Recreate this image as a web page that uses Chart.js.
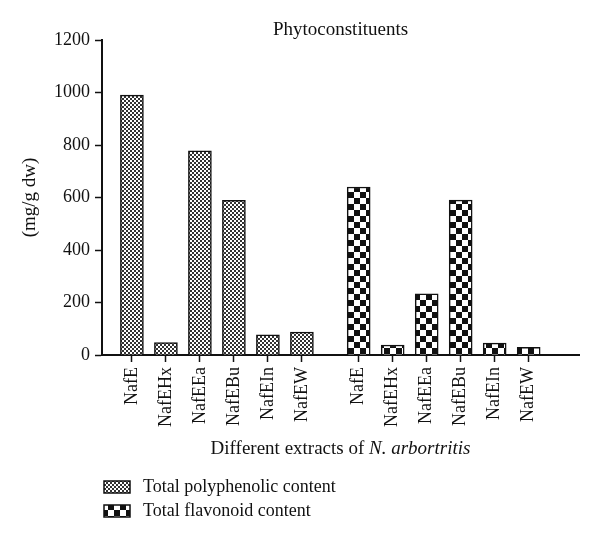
<!DOCTYPE html>
<html>
<head>
<meta charset="utf-8">
<script src="https://cdn.jsdelivr.net/npm/chart.js@4/dist/chart.umd.min.js"></script>
<style>
  html, body { margin: 0; padding: 0; background: #fff; }
  #wrap { width: 600px; height: 544px; }
</style>
</head>
<body>
<div id="wrap"><canvas id="myChart" width="600" height="544"></canvas></div>
<script>
// data
const categories = ["NafE", "NafEHx", "NafEEa", "NafEBu", "NafEIn", "NafEW"];
const polyphenolic = [990, 47, 778, 589, 77, 87];
const flavonoid = [640, 38, 233, 590, 45, 29];
const seriesNames = ["Total polyphenolic content", "Total flavonoid content"];
const yTicks = [0, 200, 400, 600, 800, 1000, 1200];

const groupGap = 0.67; // extra space between the two groups, in category units
const FONT = "'Liberation Serif', 'DejaVu Serif', serif";

function makePattern(cell, dark) {
  const c = document.createElement("canvas");
  c.width = cell * 2;
  c.height = cell * 2;
  const g = c.getContext("2d");
  g.fillStyle = "#fff";
  g.fillRect(0, 0, c.width, c.height);
  g.fillStyle = dark;
  g.fillRect(0, 0, cell, cell);
  g.fillRect(cell, cell, cell, cell);
  return g.createPattern(c, "repeat");
}
const finePattern = makePattern(2, "#333");
const coarsePattern = makePattern(6, "#111");

// x positions: category index, second group shifted after a gap
const xPos1 = categories.map((c, i) => i);
const xPos2 = categories.map((c, i) => i + categories.length + groupGap);
const allPos = xPos1.concat(xPos2);
const allLabels = categories.concat(categories);

// x title with italic species name + legend drawn under the axis
const extrasPlugin = {
  id: "extras",
  afterDraw(chart) {
    const ctx = chart.ctx;
    const area = chart.chartArea;
    ctx.save();
    ctx.fillStyle = "#111";
    ctx.textBaseline = "alphabetic";
    const part1 = "Different extracts of ";
    const part2 = "N. arbortritis";
    ctx.font = "19px " + FONT;
    const w1 = ctx.measureText(part1).width;
    ctx.font = "italic 19px " + FONT;
    const w2 = ctx.measureText(part2).width;
    let x = (area.left + area.right) / 2 - (w1 + w2) / 2;
    const y = 454;
    ctx.font = "19px " + FONT;
    ctx.textAlign = "left";
    ctx.fillText(part1, x, y);
    ctx.font = "italic 19px " + FONT;
    ctx.fillText(part2, x + w1, y);

    // legend
    ctx.font = "18px " + FONT;
    ctx.textBaseline = "middle";
    chart.data.datasets.forEach(function (ds, i) {
      const top = 481 + i * 24;
      ctx.fillStyle = ds.backgroundColor;
      ctx.fillRect(104, top, 26, 12);
      ctx.strokeStyle = "#111";
      ctx.lineWidth = 1.5;
      ctx.strokeRect(104, top, 26, 12);
      ctx.fillStyle = "#111";
      ctx.fillText(ds.label, 143, top + 6);
    });
    ctx.restore();
  }
};

new Chart("myChart", {
  type: "bar",
  data: {
    datasets: [
      {
        label: seriesNames[0],
        data: polyphenolic.map((v, i) => ({ x: xPos1[i], y: v })),
        backgroundColor: finePattern,
        borderColor: "#111",
        borderWidth: 1.5,
      },
      {
        label: seriesNames[1],
        data: flavonoid.map((v, i) => ({ x: xPos2[i], y: v })),
        backgroundColor: coarsePattern,
        borderColor: "#111",
        borderWidth: 1.5,
      },
    ],
  },
  options: {
    responsive: false,
    animation: false,
    grouped: false,
    barThickness: 23,
    layout: { padding: { top: 0, right: 21, bottom: 109, left: 0 } },
    plugins: {
      legend: { display: false },
      tooltip: { enabled: false },
      title: {
        display: true,
        text: "Phytoconstituents",
        fullSize: false,
        color: "#111",
        font: { family: FONT, size: 19, weight: "normal", lineHeight: 1 },
        padding: { top: 21, bottom: 0 },
      },
    },
    scales: {
      x: {
        type: "linear",
        min: -0.88,
        max: 13.15,
        offset: false,
        afterBuildTicks: function (scale) {
          scale.ticks = allPos.map((v) => ({ value: v }));
        },
        afterFit: function (scale) {
          scale.height = 80;
        },
        grid: {
          display: true,
          offset: false,
          drawOnChartArea: false,
          tickLength: 7,
          tickWidth: 1.5,
          tickColor: "#111",
        },
        border: { display: true, color: "#111", width: 2 },
        ticks: {
          autoSkip: false,
          minRotation: 90,
          maxRotation: 90,
          padding: 5,
          color: "#111",
          font: { family: FONT, size: 18 },
          callback: function (value, index) {
            return allLabels[index];
          },
        },
      },
      y: {
        min: 0,
        max: 1200,
        afterBuildTicks: function (scale) {
          scale.ticks = yTicks.map((v) => ({ value: v }));
        },
        afterFit: function (scale) {
          scale.width = 102;
        },
        grid: {
          display: true,
          drawOnChartArea: false,
          tickLength: 7,
          tickWidth: 1.5,
          tickColor: "#111",
        },
        border: { display: true, color: "#111", width: 2 },
        ticks: {
          padding: 5,
          color: "#111",
          font: { family: FONT, size: 18 },
          callback: function (value) {
            return String(value);
          },
        },
        title: {
          display: true,
          text: "(mg/g dw)",
          color: "#111",
          font: { family: FONT, size: 19 },
          padding: { top: 19, bottom: 0 },
        },
      },
    },
  },
  plugins: [extrasPlugin],
});
</script>
</body>
</html>
